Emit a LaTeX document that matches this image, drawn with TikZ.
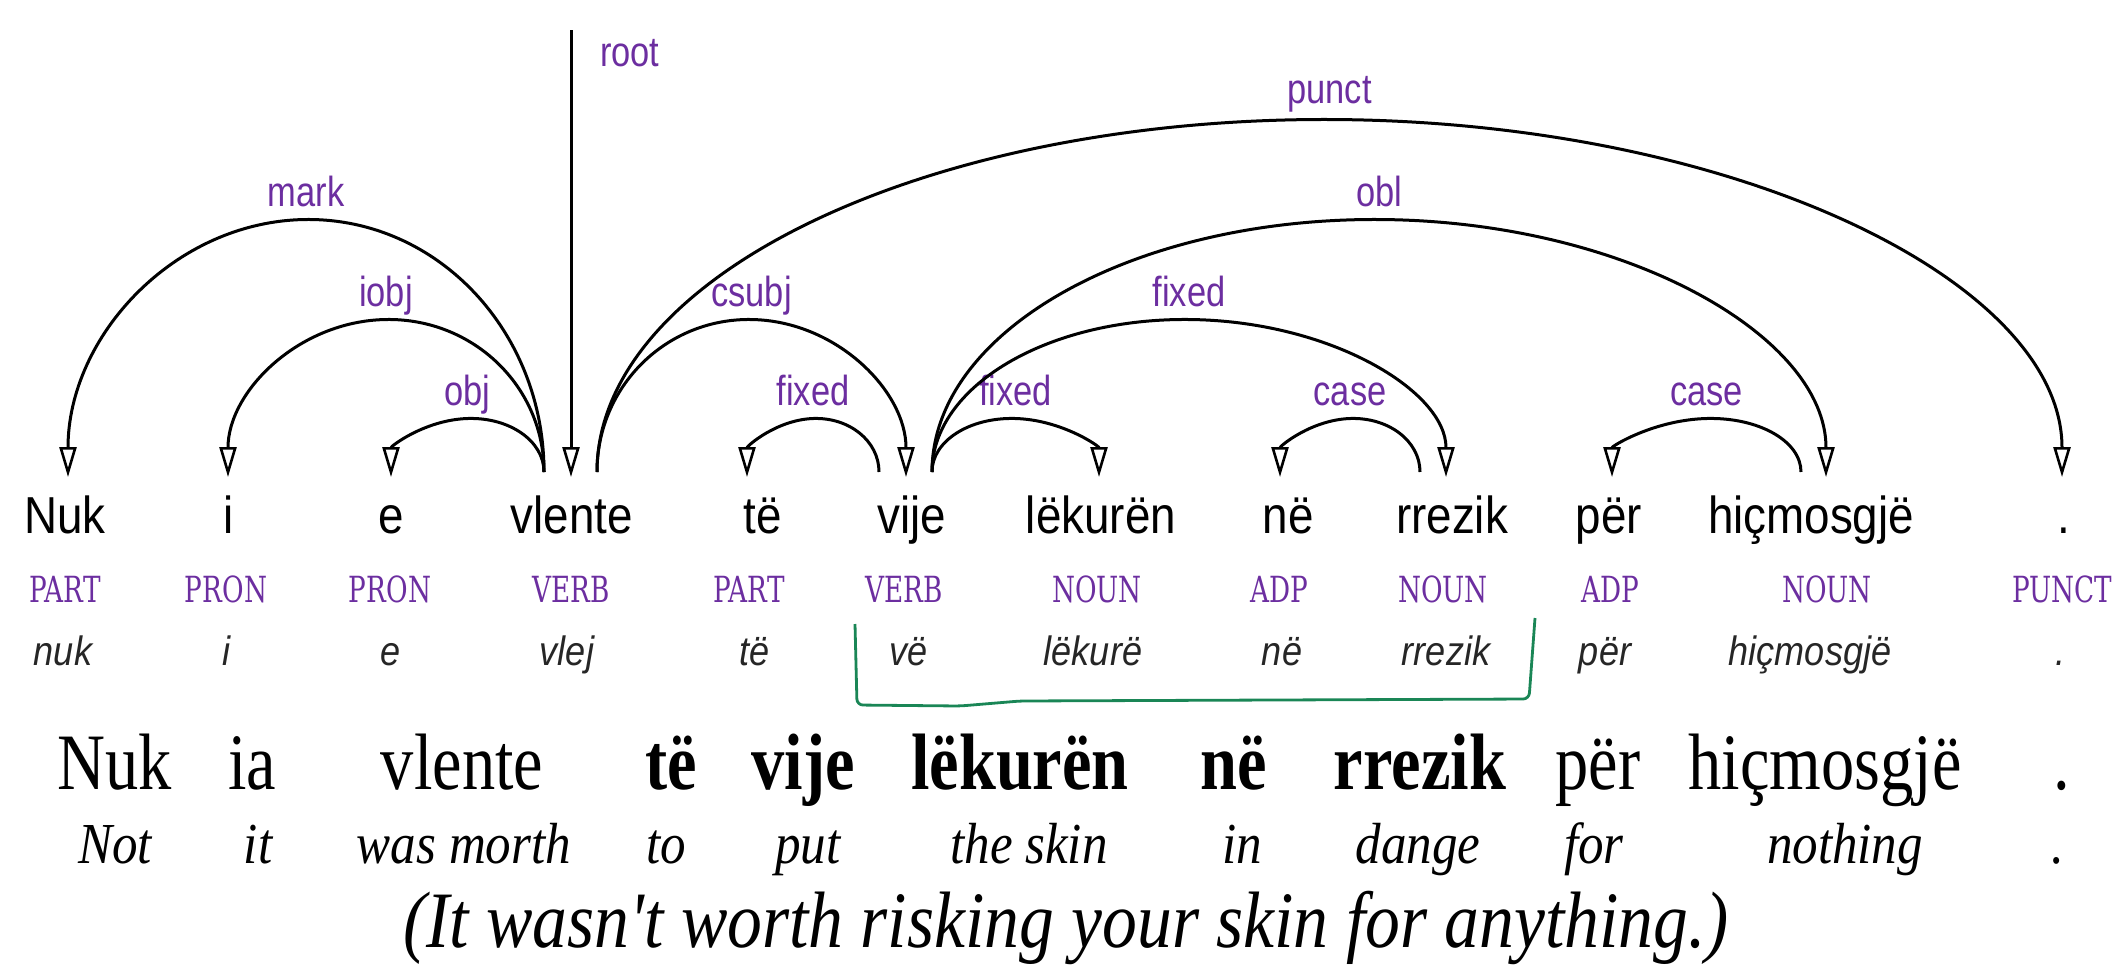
\documentclass[tikz,border=0pt]{standalone}
\usepackage{fontspec}
\usetikzlibrary{arrows.meta,calc}

% fonts for the annotation rows and the example sentence
\newfontfamily\tokfont[FakeStretch=0.88]{Liberation Sans}
\newfontfamily\relfont[FakeStretch=0.82]{Liberation Sans}
\newfontfamily\tagfont[FakeStretch=0.73]{DejaVu Serif}
\newfontfamily\sentfont[FakeStretch=0.83]{Liberation Serif}
\newfontfamily\glossfont[FakeStretch=0.88]{Liberation Serif}
\newfontfamily\transfont[FakeStretch=0.87]{Liberation Serif}

\definecolor{relpurple}{RGB}{108,46,160}
\definecolor{spangreen}{RGB}{26,134,86}

\tikzset{
  tok/.style={anchor=base, inner sep=0pt, font=\tokfont\fontsize{52}{52}\selectfont},
  upos/.style={anchor=base, inner sep=0pt, text=relpurple, font=\tagfont\fontsize{36}{36}\selectfont},
  lemma/.style={anchor=base, inner sep=0pt, text=black!85, font=\tokfont\itshape\fontsize{41}{41}\selectfont},
  rel/.style={anchor=base, inner sep=0pt, text=relpurple, font=\relfont\fontsize{42}{42}\selectfont},
  sent/.style={anchor=base, inner sep=0pt, font=\sentfont\fontsize{80}{80}\selectfont},
  hl/.style={anchor=base, inner sep=0pt, font=\sentfont\bfseries\fontsize{80}{80}\selectfont},
  gloss/.style={anchor=base, inner sep=0pt, font=\glossfont\itshape\fontsize{58}{58}\selectfont},
  trans/.style={anchor=base, inner sep=0pt, font=\transfont\itshape\fontsize{80}{80}\selectfont},
  deptip/.style={-{Triangle[open, length=30pt, width=17pt, line width=2.6pt]}},
  % half-elliptic dependency arc of the given height
  deparc/.style={draw, line width=3pt, deptip,
    to path={
      .. controls ($(\tikztostart)+(0,-0.552*#1)$) and ($(\tikztostart)!0.224!(\tikztotarget)+(0,-#1)$)
      .. ($(\tikztostart)!0.5!(\tikztotarget)+(0,-#1)$)
      .. controls ($(\tikztostart)!0.776!(\tikztotarget)+(0,-#1)$) and ($(\tikztotarget)+(0,-0.552*#1)$)
      .. (\tikztotarget)}},
  span/.style={draw=spangreen, line width=2.8pt, rounded corners=6pt},
}

\begin{document}
\begin{tikzpicture}[x=1pt, y=-1pt]
\useasboundingbox (0,0) rectangle (2115,967);

% tokens
\foreach \n/\x/\t in {1/65/Nuk, 2/229/i, 3/391/e, 4/572/vlente, 5/763/të, 6/912/vije,
    7/1101/lëkurën, 8/1288/në, 9/1452/rrezik, 10/1609/për, 11/1811/hiçmosgjë, 12/2064/.}
  \node[tok] (w\n) at (\x,533) {\t};

% part-of-speech tags
\foreach \n/\x/\t in {1/65/PART, 2/226/PRON, 3/390/PRON, 4/571/VERB, 5/749/PART, 6/904/VERB,
    7/1097/NOUN, 8/1279/ADP, 9/1443/NOUN, 10/1610/ADP, 11/1827/NOUN, 12/2062/PUNCT}
  \node[upos] (p\n) at (\x,602) {\t};

% lemmas
\foreach \n/\x/\t in {1/63/nuk, 2/227/i, 3/391/e, 4/567/vlej, 5/755/të, 6/909/vë,
    7/1093/lëkurë, 8/1282/në, 9/1446/rrezik, 10/1605/për, 11/1810/hiçmosgjë, 12/2060/.}
  \node[lemma] (m\n) at (\x,665) {\t};

% arc end points
\coordinate (vlL) at (544,472);
\coordinate (vlR) at (597,472);
\coordinate (viL) at (879,472);
\coordinate (viR) at (932,472);
\coordinate (rrO) at (1420,472);
\coordinate (hiO) at (1801,472);
\coordinate (inNuk) at (68,477);
\coordinate (inI) at (228,477);
\coordinate (inE) at (391,477);
\coordinate (inVlente) at (571,477);
\coordinate (inTe) at (747,477);
\coordinate (inVije) at (906,477);
\coordinate (inLek) at (1099,477);
\coordinate (inNe) at (1280,477);
\coordinate (inRrezik) at (1446,477);
\coordinate (inPer) at (1612,477);
\coordinate (inHic) at (1826,477);
\coordinate (inDot) at (2062,477);
\coordinate (rootTop) at (571,30);

% root
\draw[line width=3pt, deptip] (rootTop) -- (inVlente);
\node[rel, anchor=base west] (rRoot) at (600,66) {root};

% dependencies
\draw[deparc=255] (vlL) to (inNuk);
\node[rel] (rMark) at ($(vlL)!.5!(inNuk)+(0,-268)$) {mark};
\draw[deparc=155] (vlL) to (inI);
\node[rel] (rIobj) at ($(vlL)!.5!(inI)+(0,-168)$) {iobj};
\draw[deparc=56] (vlL) to (inE);
\node[rel] (rObj) at ($(vlL)!.5!(inE)+(0,-69)$) {obj};
\draw[deparc=155] (vlR) to (inVije);
\node[rel] (rCsubj) at ($(vlR)!.5!(inVije)+(0,-168)$) {csubj};
\draw[deparc=355] (vlR) to (inDot);
\node[rel] (rPunct) at ($(vlR)!.5!(inDot)+(0,-371)$) {punct};
\draw[deparc=56] (viL) to (inTe);
\node[rel] (rFixA) at ($(viL)!.5!(inTe)+(0,-69)$) {fixed};
\draw[deparc=56] (viR) to (inLek);
\node[rel] (rFixB) at ($(viR)!.5!(inLek)+(0,-69)$) {fixed};
\draw[deparc=155] (viR) to (inRrezik);
\node[rel] (rFixC) at ($(viR)!.5!(inRrezik)+(0,-168)$) {fixed};
\draw[deparc=255] (viR) to (inHic);
\node[rel] (rObl) at ($(viR)!.5!(inHic)+(0,-268)$) {obl};
\draw[deparc=56] (rrO) to (inNe);
\node[rel] (rCaseA) at ($(rrO)!.5!(inNe)+(0,-69)$) {case};
\draw[deparc=56] (hiO) to (inPer);
\node[rel] (rCaseB) at ($(hiO)!.5!(inPer)+(0,-69)$) {case};

% bracket under the idiom's lemmas
\coordinate (bA) at (855,624);
\coordinate (bB) at (857,705);
\coordinate (bC) at (960,706);
\coordinate (bD) at (1020,701);
\coordinate (bE) at (1529,699);
\coordinate (bF) at (1535,618);
\draw[span] (bA) -- (bB) -- (bC) -- (bD) -- (bE) -- (bF);

% example sentence
\node[sent] (s1) at (115,789) {Nuk};
\node[sent] (s2) at (252,789) {ia};
\node[sent] (s3) at (462,789) {vlente};
\node[hl] (s4) at (671,789) {të};
\node[hl] (s5) at (803,789) {vije};
\node[hl] (s6) at (1020,789) {lëkurën};
\node[hl] (s7) at (1234,789) {në};
\node[hl] (s8) at (1420,789) {rrezik};
\node[sent] (s9) at (1598,789) {për};
\node[sent] (s10) at (1825,789) {hiçmosgjë};
\node[sent] (s11) at (2062,789) {.};

% word-by-word gloss
\node[gloss] (g1) at (115,863) {Not};
\node[gloss] (g2) at (258,863) {it};
\node[gloss] (g3) at (464,863) {was morth};
\node[gloss] (g4) at (666,863) {to};
\node[gloss] (g5) at (808,863) {put};
\node[gloss] (g6) at (1029,863) {the skin};
\node[gloss] (g7) at (1242,863) {in};
\node[gloss] (g8) at (1418,863) {dange};
\node[gloss] (g9) at (1594,863) {for};
\node[gloss] (g10) at (1845,863) {nothing};
\node[gloss] (g11) at (2058,863) {.};

% free translation
\node[trans] (tr) at (1066,947) {(It wasn't worth risking your skin for anything.)};
\end{tikzpicture}
\end{document}
